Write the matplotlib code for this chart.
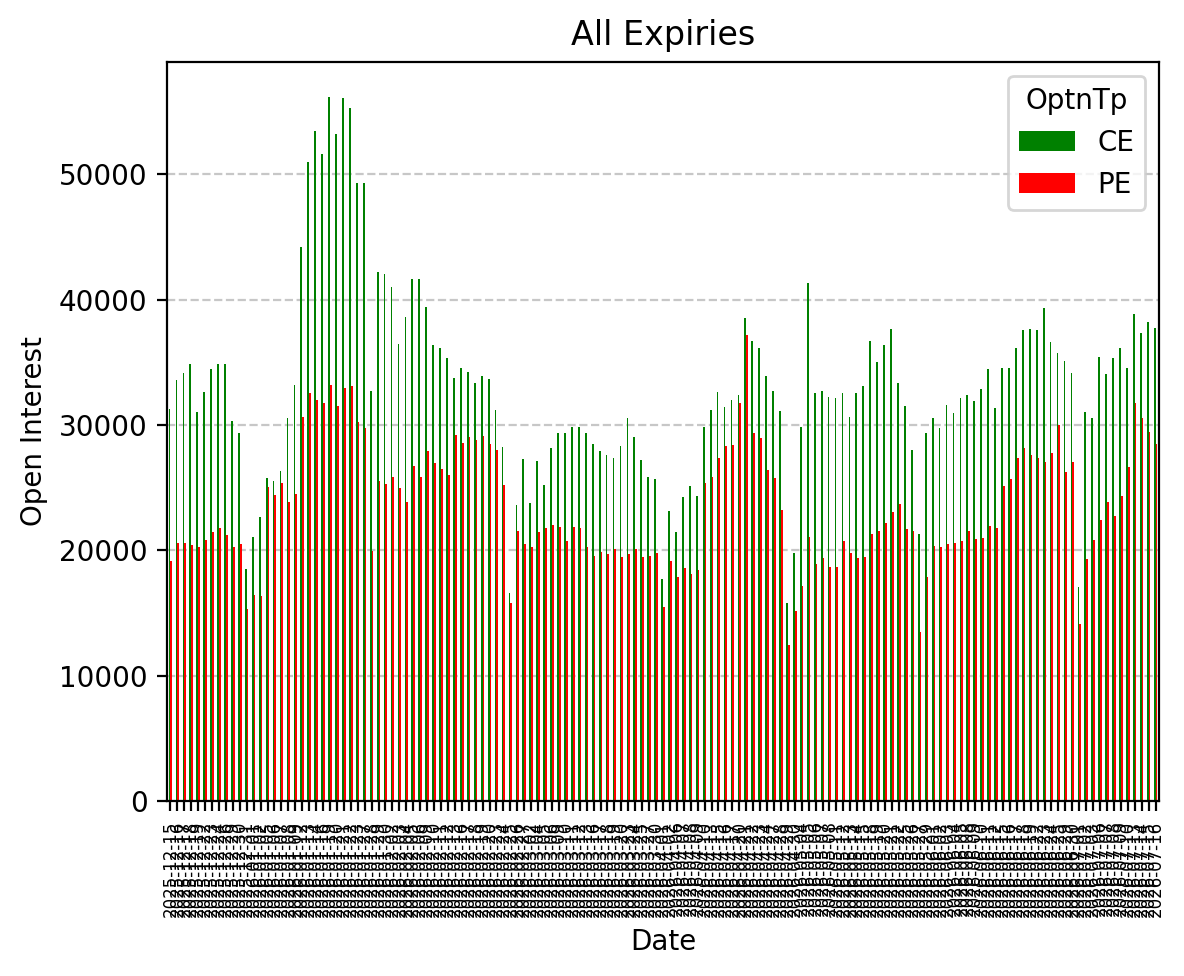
import pandas as pd
import matplotlib
matplotlib.use('Agg')
import matplotlib.pyplot as plt

# trading days shown on the x axis
start_date = '2025-12-15'
end_date = '2026-07-16'
holidays = ['2025-12-25', '2026-01-15', '2026-01-26', '2026-03-03', '2026-03-26',
            '2026-03-31', '2026-04-03', '2026-04-14', '2026-05-01', '2026-05-28',
            '2026-06-26']
dates = pd.bdate_range(start_date, end_date, freq='C', holidays=holidays).strftime('%Y-%m-%d')

ce_oi = [31260, 33600, 34160, 34870, 31040, 32640, 34460, 34870, 34870, 30330,
         29370, 18510, 21040, 22640, 25760, 25540, 26320, 30560, 33200, 44200,
         51000, 53460, 51670, 56170, 53230, 56100, 55300, 49330, 49330, 32710,
         42230, 42040, 41000, 36470, 38600, 41630, 41630, 39460, 36430, 36180,
         35380, 33780, 34520, 34270, 33320, 33950, 33640, 31240, 28270, 16600,
         23650, 27330, 23790, 27160, 25250, 28190, 29390, 29390, 29870, 29870,
         29390, 28530, 27960, 27650, 27390, 28360, 30530, 29070, 27250, 25880,
         25730, 17750, 23170, 21480, 24280, 25160, 24360, 29870, 31240, 32670,
         31470, 32040, 32440, 38520, 36750, 36120, 33950, 32750, 31160, 15810,
         19800, 29870, 41310, 32580, 32750, 32270, 32130, 32580, 30670, 32580,
         33150, 36750, 35060, 36430, 37630, 33380, 31550, 28050, 21340, 29330,
         30530, 29790, 31610, 30980, 32180, 32440, 31950, 32920, 34440, 31330,
         34580, 34520, 36120, 37550, 37630, 37550, 39320, 36660, 35780, 35150,
         34120, 17090, 31070, 30580, 35460, 34040, 35320, 36180, 34580, 38830,
         37370, 38260, 37770]

pe_oi = [19140, 20600, 20600, 20400, 20260, 20800, 21450, 21780, 21230, 20260,
         20480, 15320, 16430, 16360, 25060, 24420, 25350, 23870, 24500, 30630,
         32570, 32000, 31750, 33200, 31520, 32940, 33120, 30220, 29780, 19930,
         25540, 25280, 25840, 24960, 23900, 26760, 25880, 27960, 26990, 26530,
         26050, 29240, 28590, 29070, 28840, 29160, 28530, 28050, 25250, 15810,
         21570, 20540, 20290, 21480, 21800, 22050, 21880, 20770, 21880, 21800,
         20290, 19570, 19890, 19740, 20140, 19490, 19740, 20140, 19490, 19570,
         19830, 15490, 19170, 17890, 18600, 18150, 18460, 25390, 25880, 27390,
         28360, 28440, 31730, 37150, 29390, 28930, 26450, 25790, 23250, 12470,
         15180, 17180, 21080, 18940, 19400, 18690, 18690, 20770, 19800, 19400,
         19490, 21340, 21570, 22200, 23080, 23740, 21740, 21570, 13500, 17890,
         20370, 20290, 20540, 20600, 20770, 21570, 20940, 20990, 21970, 21800,
         25160, 25730, 27390, 28190, 27650, 27390, 27080, 27790, 30040, 26280,
         27080, 14150, 19340, 20860, 22450, 23880, 22770, 24360, 26680, 31780,
         30530, 29470, 28530]

df = pd.DataFrame({'CE': ce_oi, 'PE': pe_oi}, index=pd.Index(dates, name='Date'))
df.columns.name = 'OptnTp'

fig = plt.figure(figsize=(5.92, 4.88), dpi=200)
ax = fig.add_axes([0.141, 0.1793, 0.8379, 0.7572])
df.plot(kind='bar', color=['green', 'red'], ax=ax)
ax.set_title('All Expiries')
ax.set_xlabel('Date')
ax.set_ylabel('Open Interest')
ax.tick_params(axis='x', labelsize=6, rotation=90)
ax.grid(axis='y', linestyle='--', alpha=0.7)
ax.set_axisbelow(True)
ax.legend(title='OptnTp', loc='upper right')
fig.savefig('out.png', dpi=200)
